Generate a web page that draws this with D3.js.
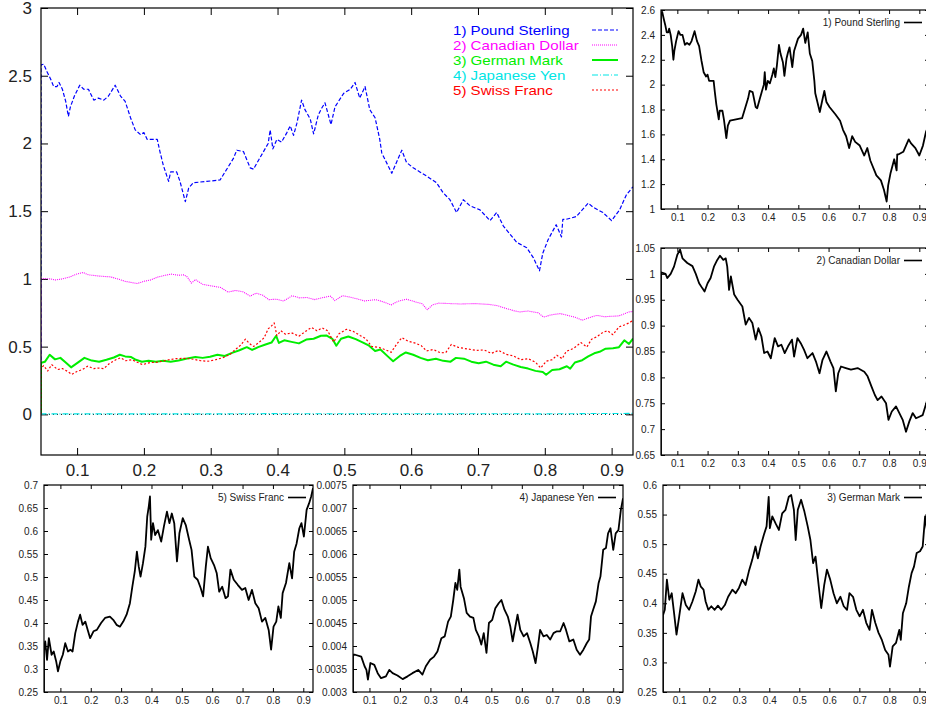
<!DOCTYPE html>
<html>
<head>
<meta charset="utf-8">
<script src="https://cdn.jsdelivr.net/npm/d3@7"></script>
<style>
  body { margin: 0; background: #fff; }
  svg { display: block; }
  text { font-family: "Liberation Sans", Arial, Helvetica, sans-serif; }
</style>
</head>
<body>
<svg id="chart" width="926" height="709"></svg>
<script>
// Exchange rates against the US dollar, time axis as fraction of the period.
const seriesNames = ["1) Pound Sterling", "2) Canadian Dollar", "3) German Mark", "4) Japanese Yen", "5) Swiss Franc"];

const poundT = [0.046,0.046,0.050,0.055,0.060,0.065,0.070,0.073,0.078,0.083,0.087,0.090,0.096,0.104,0.110,0.117,0.125,0.132,0.140,0.147,0.157,0.165,0.172,0.180,0.187,0.195,0.200,0.205,0.220,0.224,0.229,0.237,0.240,0.249,0.254,0.262,0.267,0.274,0.294,0.314,0.324,0.334,0.339,0.349,0.359,0.364,0.372,0.379,0.386,0.389,0.393,0.399,0.406,0.414,0.419,0.424,0.429,0.436,0.441,0.449,0.454,0.461,0.466,0.471,0.480,0.486,0.499,0.509,0.516,0.523,0.531,0.538,0.546,0.553,0.556,0.566,0.571,0.578,0.586,0.593,0.603,0.613,0.623,0.638,0.648,0.658,0.668,0.678,0.688,0.703,0.718,0.728,0.738,0.743,0.753,0.758,0.773,0.783,0.792,0.797,0.805,0.817,0.825,0.827,0.832,0.847,0.865,0.872,0.887,0.900,0.912,0.922,0.932];
const poundV = [0,2.58,2.585,2.53,2.48,2.42,2.42,2.45,2.40,2.31,2.20,2.27,2.35,2.43,2.40,2.40,2.32,2.335,2.32,2.35,2.43,2.35,2.31,2.19,2.10,2.065,2.08,2.03,2.03,1.94,1.84,1.72,1.79,1.79,1.72,1.57,1.67,1.71,1.72,1.73,1.81,1.89,1.95,1.94,1.82,1.81,1.88,1.94,2.00,2.10,1.96,2.03,2.01,2.08,2.13,2.06,2.15,2.32,2.25,2.18,2.07,2.21,2.26,2.30,2.14,2.27,2.37,2.40,2.45,2.335,2.42,2.25,2.19,2.03,1.93,1.83,1.78,1.86,1.95,1.86,1.82,1.79,1.76,1.71,1.635,1.585,1.49,1.585,1.54,1.51,1.43,1.49,1.39,1.36,1.30,1.27,1.23,1.155,1.06,1.19,1.29,1.40,1.31,1.44,1.44,1.46,1.56,1.53,1.49,1.43,1.51,1.62,1.68];

const cadT = [0.046,0.046,0.061,0.067,0.078,0.089,0.100,0.109,0.117,0.133,0.150,0.161,0.172,0.183,0.190,0.200,0.210,0.221,0.232,0.241,0.252,0.260,0.265,0.271,0.277,0.288,0.299,0.315,0.326,0.337,0.348,0.359,0.368,0.378,0.387,0.398,0.409,0.422,0.433,0.444,0.455,0.466,0.479,0.486,0.497,0.508,0.519,0.530,0.547,0.558,0.570,0.580,0.593,0.606,0.616,0.624,0.632,0.641,0.657,0.674,0.696,0.718,0.729,0.742,0.753,0.762,0.775,0.790,0.798,0.809,0.823,0.834,0.845,0.856,0.867,0.878,0.889,0.900,0.911,0.926,0.932];
const cadV = [0,1.003,1.000,0.992,1.000,1.014,1.037,1.047,1.030,1.021,1.015,1.000,0.982,0.972,0.966,0.982,0.992,1.014,1.027,1.035,1.027,1.030,1.014,0.969,0.995,0.960,0.950,0.937,0.902,0.915,0.905,0.873,0.895,0.879,0.847,0.850,0.837,0.876,0.860,0.863,0.847,0.860,0.873,0.840,0.876,0.866,0.853,0.837,0.847,0.831,0.808,0.834,0.850,0.831,0.818,0.773,0.808,0.821,0.818,0.815,0.818,0.811,0.802,0.782,0.766,0.756,0.763,0.750,0.718,0.734,0.744,0.731,0.718,0.695,0.715,0.731,0.721,0.724,0.727,0.756,0.760];

const demT = [0.046,0.046,0.052,0.059,0.067,0.075,0.083,0.091,0.100,0.111,0.122,0.133,0.144,0.155,0.164,0.172,0.181,0.188,0.197,0.207,0.218,0.229,0.240,0.252,0.263,0.277,0.288,0.299,0.310,0.321,0.332,0.343,0.354,0.362,0.371,0.382,0.391,0.398,0.402,0.410,0.421,0.432,0.443,0.454,0.465,0.473,0.482,0.488,0.495,0.506,0.517,0.528,0.537,0.546,0.554,0.565,0.573,0.583,0.592,0.603,0.614,0.625,0.637,0.648,0.659,0.667,0.679,0.690,0.701,0.712,0.723,0.734,0.742,0.753,0.764,0.775,0.786,0.797,0.802,0.811,0.822,0.833,0.838,0.845,0.856,0.865,0.874,0.882,0.891,0.902,0.911,0.919,0.926,0.932];
const demV = [0,0.380,0.389,0.440,0.406,0.417,0.383,0.347,0.378,0.417,0.397,0.389,0.403,0.420,0.440,0.428,0.423,0.403,0.389,0.395,0.389,0.396,0.389,0.397,0.411,0.423,0.417,0.426,0.440,0.431,0.454,0.473,0.496,0.476,0.496,0.516,0.530,0.580,0.527,0.547,0.535,0.524,0.552,0.558,0.580,0.583,0.558,0.507,0.558,0.575,0.555,0.530,0.507,0.468,0.479,0.428,0.392,0.431,0.457,0.440,0.417,0.400,0.411,0.395,0.389,0.417,0.411,0.389,0.378,0.389,0.367,0.355,0.389,0.367,0.350,0.338,0.321,0.313,0.293,0.327,0.333,0.355,0.338,0.383,0.400,0.428,0.451,0.462,0.485,0.488,0.496,0.547,0.520,0.560];

const jpyT = [0.046,0.046,0.053,0.073,0.084,0.090,0.095,0.103,0.116,0.127,0.138,0.154,0.165,0.176,0.192,0.209,0.225,0.241,0.260,0.274,0.285,0.299,0.312,0.323,0.336,0.347,0.358,0.367,0.375,0.382,0.388,0.395,0.399,0.410,0.419,0.430,0.441,0.449,0.459,0.467,0.475,0.484,0.492,0.503,0.513,0.524,0.533,0.543,0.554,0.562,0.570,0.579,0.586,0.595,0.606,0.617,0.628,0.636,0.645,0.653,0.660,0.671,0.682,0.693,0.704,0.715,0.726,0.737,0.745,0.756,0.769,0.780,0.791,0.802,0.813,0.821,0.827,0.834,0.843,0.852,0.858,0.867,0.876,0.883,0.891,0.900,0.908,0.917,0.925,0.932];
const jpyV = [0,0.00381,0.00381,0.00377,0.00356,0.00348,0.00327,0.00363,0.00359,0.00341,0.00330,0.00334,0.00348,0.00341,0.00336,0.00328,0.00334,0.00341,0.00348,0.00338,0.00356,0.00370,0.00377,0.00388,0.00417,0.00421,0.00453,0.00464,0.00500,0.00537,0.00522,0.00566,0.00529,0.00504,0.00472,0.00464,0.00461,0.00435,0.00421,0.00403,0.00428,0.00385,0.00450,0.00457,0.00482,0.00493,0.00500,0.00479,0.00464,0.00443,0.00410,0.00443,0.00468,0.00435,0.00421,0.00428,0.00406,0.00388,0.00363,0.00399,0.00435,0.00421,0.00424,0.00414,0.00428,0.00432,0.00432,0.00450,0.00435,0.00410,0.00414,0.00392,0.00381,0.00392,0.00406,0.00414,0.00464,0.00479,0.00497,0.00537,0.00551,0.00609,0.00613,0.00645,0.00656,0.00609,0.00645,0.00652,0.00696,0.00721];

const chfT = [0.046,0.046,0.050,0.056,0.062,0.071,0.078,0.086,0.092,0.100,0.108,0.116,0.125,0.133,0.140,0.149,0.158,0.165,0.173,0.182,0.190,0.198,0.209,0.220,0.234,0.247,0.263,0.274,0.285,0.296,0.307,0.318,0.329,0.337,0.345,0.352,0.358,0.364,0.372,0.380,0.386,0.391,0.395,0.399,0.405,0.412,0.421,0.432,0.441,0.451,0.459,0.467,0.475,0.484,0.492,0.503,0.513,0.524,0.532,0.541,0.552,0.562,0.570,0.579,0.586,0.595,0.606,0.615,0.623,0.633,0.644,0.652,0.660,0.671,0.684,0.698,0.709,0.720,0.731,0.742,0.753,0.764,0.775,0.786,0.794,0.802,0.811,0.818,0.826,0.832,0.843,0.854,0.863,0.870,0.878,0.887,0.894,0.902,0.911,0.919,0.926,0.932];
const chfV = [0,0.340,0.360,0.320,0.367,0.331,0.338,0.317,0.295,0.317,0.331,0.356,0.338,0.342,0.338,0.378,0.403,0.418,0.396,0.403,0.385,0.367,0.382,0.385,0.400,0.411,0.414,0.407,0.396,0.392,0.403,0.418,0.443,0.479,0.512,0.555,0.523,0.501,0.530,0.566,0.631,0.653,0.675,0.581,0.617,0.591,0.602,0.577,0.610,0.642,0.617,0.638,0.617,0.534,0.595,0.628,0.613,0.581,0.559,0.501,0.494,0.476,0.458,0.523,0.566,0.541,0.526,0.508,0.468,0.479,0.454,0.458,0.516,0.494,0.483,0.472,0.476,0.450,0.472,0.443,0.432,0.403,0.411,0.385,0.342,0.392,0.403,0.436,0.411,0.465,0.487,0.530,0.497,0.555,0.573,0.606,0.617,0.588,0.646,0.660,0.675,0.693];

// Tick values for each frame
const xTicks = [0.1,0.2,0.3,0.4,0.5,0.6,0.7,0.8,0.9];
const mainYTicks = [0,0.5,1,1.5,2,2.5,3];
const poundTicks = [1,1.2,1.4,1.6,1.8,2,2.2,2.4,2.6];
const cadTicks = [0.65,0.7,0.75,0.8,0.85,0.9,0.95,1,1.05];
const demTicks = [0.25,0.3,0.35,0.4,0.45,0.5,0.55,0.6];
const jpyTicks = [0.003,0.0035,0.004,0.0045,0.005,0.0055,0.006,0.0065,0.007,0.0075];
const chfTicks = [0.25,0.3,0.35,0.4,0.45,0.5,0.55,0.6,0.65,0.7];

const xDomain = [0.046, 0.932];
const svg = d3.select("#chart");
const defs = svg.append("defs");
let clipCount = 0;

function drawFrame(box, yDomain, yTicks, opt) {
  const g = svg.append("g");
  const x = d3.scaleLinear().domain(xDomain).range([box.l, box.r]);
  const y = d3.scaleLinear().domain(yDomain).range([box.b, box.t]);
  const id = "clip" + (clipCount++);
  defs.append("clipPath").attr("id", id).append("rect")
    .attr("x", box.l).attr("y", box.t).attr("width", box.r - box.l).attr("height", box.b - box.t);

  const fmt = d => String(d);
  const tl = opt.tickLen;
  const ax = [
    g.append("g").attr("transform", `translate(0,${box.b})`)
      .call(d3.axisBottom(x).tickValues(xTicks).tickSize(-tl).tickPadding(opt.xPad).tickFormat(fmt)),
    g.append("g").attr("transform", `translate(0,${box.t})`)
      .call(d3.axisTop(x).tickValues(xTicks).tickSize(-tl).tickFormat("")),
    g.append("g").attr("transform", `translate(${box.l},0)`)
      .call(d3.axisLeft(y).tickValues(yTicks).tickSize(-tl).tickPadding(opt.yPad).tickFormat(fmt)),
    g.append("g").attr("transform", `translate(${box.r},0)`)
      .call(d3.axisRight(y).tickValues(yTicks).tickSize(-tl).tickFormat(""))
  ];
  ax.forEach(a => {
    a.select(".domain").remove();
    a.selectAll(".tick line").attr("stroke", "#000").attr("stroke-width", 1);
    a.selectAll("text").attr("fill", "#222").attr("font-size", opt.fontSize)
      .attr("font-family", '"Liberation Sans", Arial, sans-serif');
  });

  const lines = g.append("g").attr("clip-path", `url(#${id})`);
  if (opt.zeroAxis) {
    lines.append("line")
      .attr("x1", box.l).attr("x2", box.r).attr("y1", y(0)).attr("y2", y(0))
      .attr("stroke", "#000").attr("stroke-width", 1).attr("stroke-dasharray", "1,3");
  }
  opt.series.forEach(s => {
    const line = d3.line().x(i => x(s.t[i])).y(i => y(s.v[i]));
    lines.append("path")
      .attr("d", line(d3.range(s.t.length)))
      .attr("fill", "none")
      .attr("stroke", s.color)
      .attr("stroke-width", s.width)
      .attr("stroke-dasharray", s.dash || null)
      .attr("stroke-linejoin", "round");
  });

  g.append("rect")
    .attr("x", box.l).attr("y", box.t).attr("width", box.r - box.l).attr("height", box.b - box.t)
    .attr("fill", "none").attr("stroke", "#000").attr("stroke-width", 1.2);
  return { g, x, y };
}

// Overview frame with all five currencies
const mainSeries = [
  { t: poundT, v: poundV, color: "#0000ff", width: 1.2, dash: "4,2" },
  { t: cadT, v: cadV, color: "#ff00ff", width: 1.1, dash: "1,1" },
  { t: demT, v: demV, color: "#00ee00", width: 2, dash: null },
  { t: jpyT, v: jpyV, color: "#00e5e5", width: 1.1, dash: "6,2,1,2" },
  { t: chfT, v: chfV, color: "#ff0000", width: 1.2, dash: "2,2" }
];
drawFrame({ l: 41, r: 633, t: 8, b: 455 }, [-0.3, 3], mainYTicks, {
  tickLen: 7, fontSize: 17, xPad: 9, yPad: 9, series: mainSeries, zeroAxis: true
});

// Key of the overview frame
const key = svg.append("g");
mainSeries.forEach((s, i) => {
  const yy = 30 + 15 * i;
  const label = key.append("text").attr("x", 453).attr("y", yy + 5)
    .attr("font-size", 13).attr("fill", s.color)
    .text(seriesNames[i]);
  // stretch the 13px glyphs to the wider key lettering
  const w = label.node().getComputedTextLength();
  label.attr("textLength", w * 1.16).attr("lengthAdjust", "spacingAndGlyphs");
  key.append("line").attr("x1", 592).attr("x2", 618).attr("y1", yy).attr("y2", yy)
    .attr("stroke", s.color).attr("stroke-width", s.width)
    .attr("stroke-dasharray", s.dash || null);
});

// Single-currency frames
function single(box, yDomain, yTicks, t, v, label) {
  const f = drawFrame(box, yDomain, yTicks, {
    tickLen: 4, fontSize: 10, xPad: 5, yPad: 6,
    series: [{ t, v, color: "#000", width: 1.8 }]
  });
  const ly = box.t + 12.5;
  f.g.append("text").attr("x", box.r - 29).attr("y", ly + 3.5)
    .attr("text-anchor", "end").attr("font-size", 10).attr("fill", "#222").text(label);
  f.g.append("line").attr("x1", box.r - 25).attr("x2", box.r - 7).attr("y1", ly).attr("y2", ly)
    .attr("stroke", "#000").attr("stroke-width", 1.6);
}

single({ l: 661, r: 929, t: 10, b: 209 }, [1, 2.6], poundTicks, poundT, poundV, seriesNames[0]);
single({ l: 661, r: 929, t: 248, b: 455 }, [0.65, 1.05], cadTicks, cadT, cadV, seriesNames[1]);
single({ l: 44, r: 313, t: 485, b: 692 }, [0.25, 0.7], chfTicks, chfT, chfV, seriesNames[4]);
single({ l: 353, r: 623, t: 485, b: 692 }, [0.003, 0.0075], jpyTicks, jpyT, jpyV, seriesNames[3]);
single({ l: 663, r: 929, t: 485, b: 692 }, [0.25, 0.6], demTicks, demT, demV, seriesNames[2]);
</script>
</body>
</html>
